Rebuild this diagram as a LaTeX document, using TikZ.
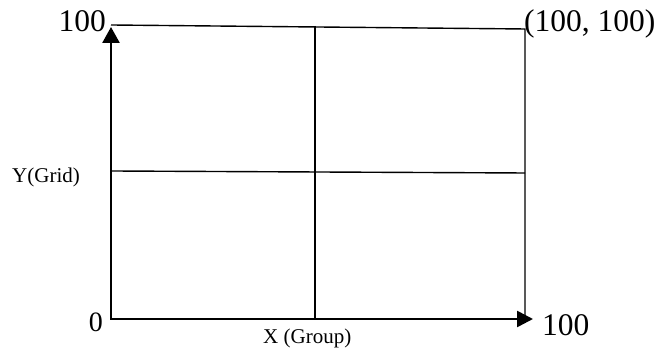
\documentclass[tikz,border=0pt]{standalone}
\usepackage{fontspec}
\setmainfont{Liberation Serif}
\usetikzlibrary{arrows.meta,positioning}

\begin{document}
\begin{tikzpicture}[x=1pt, y=1pt,
  axis/.style={line width=2.6pt, {Triangle[length=16pt, width=17pt]}-{Triangle[length=16pt, width=16pt]}},
  gridline/.style={line width=1.4pt},
  biglabel/.style={inner sep=0pt, font=\fontsize{31.5}{33}\selectfont},
  smalllabel/.style={inner sep=0pt, font=\fontsize{21}{23}\selectfont},
]
\useasboundingbox (0,0) rectangle (659,352);

% Corners
\coordinate (origin) at (111,33);
\coordinate (ytip) at (111,325);
\coordinate (xtip) at (533,33);
\coordinate (topleft) at (111,327);
\coordinate (topright) at (525,323);
\coordinate (botright) at (525,33);
\coordinate (midtop) at (315,326);
\coordinate (midbot) at (315,33);
\coordinate (midleft) at (111,181);
\coordinate (midright) at (525,179);

% Grid lines
\draw[gridline] (topleft) -- (topright) -- (botright);
\draw[gridline] (midtop) -- (midbot);
\draw[gridline] (midleft) -- (midright);

% Axes
\draw[axis] (ytip) -- (origin) -- (xtip);

% Labels
\node[biglabel, anchor=base east] (ymax) at (106,320) {100};
\node[biglabel, anchor=base west] (corner) at (524,320) {(100, 100)};
\node[smalllabel, anchor=base west] (ylabel) at (12,169) {Y(Grid)};
\node[biglabel, font=\fontsize{28}{30}\selectfont, anchor=base east] (zero) at (103,20) {0};
\node[smalllabel, anchor=base west] (xlabel) at (263,8) {X (Group)};
\node[biglabel, anchor=base west] (xmax) at (542,16) {100};

\end{tikzpicture}
\end{document}
